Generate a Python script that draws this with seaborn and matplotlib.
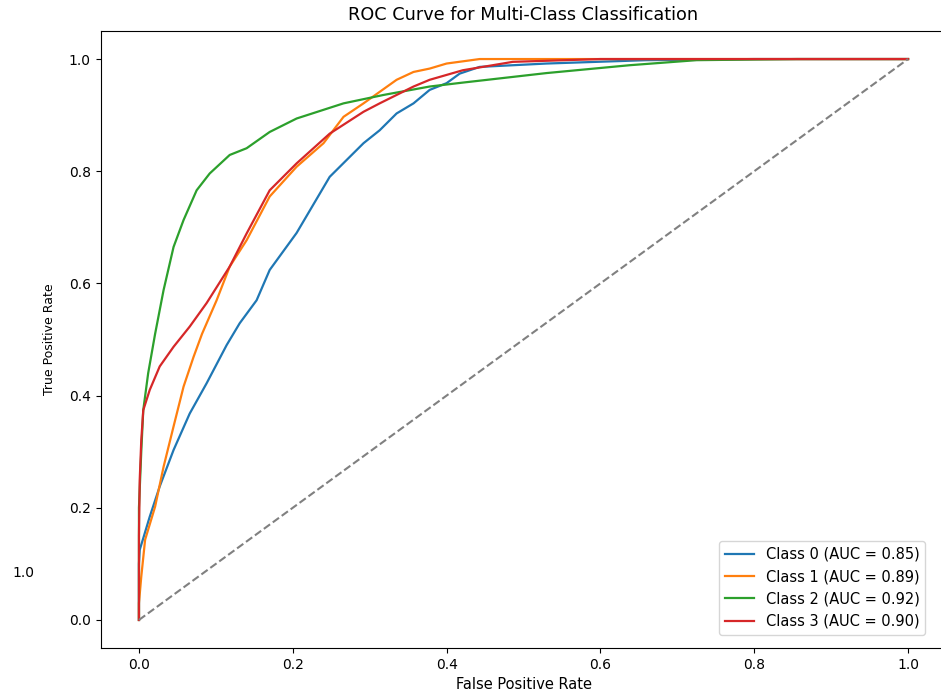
import matplotlib
matplotlib.use("Agg")
import matplotlib.pyplot as plt
import seaborn as sns
import pandas as pd

# ROC curve points (false positive rate, true positive rate) for each class
class_names = ["Class 0", "Class 1", "Class 2", "Class 3"]
auc_values = [0.85, 0.89, 0.92, 0.90]
line_colors = ["#1f77b4", "#ff7f0e", "#2ca02c", "#d62728"]

fpr_class0 = [0, 0, 0.001, 0.005, 0.014, 0.027, 0.045, 0.066, 0.088, 0.114, 0.131,
              0.153, 0.170, 0.205, 0.248, 0.292, 0.313, 0.335, 0.357, 0.378, 0.400,
              0.417, 0.443, 0.53, 0.66, 0.80, 1.0]
tpr_class0 = [0, 0.10, 0.125, 0.143, 0.184, 0.238, 0.303, 0.368, 0.422, 0.49, 0.529,
              0.57, 0.624, 0.690, 0.790, 0.850, 0.873, 0.903, 0.921, 0.945, 0.957,
              0.974, 0.986, 0.992, 0.998, 1.0, 1.0]

fpr_class1 = [0, 0.0, 0.003, 0.008, 0.021, 0.032, 0.045, 0.058, 0.071, 0.082, 0.101,
              0.118, 0.140, 0.170, 0.205, 0.240, 0.266, 0.292, 0.335, 0.357, 0.378,
              0.400, 0.443, 1.0]
tpr_class1 = [0, 0.03, 0.077, 0.143, 0.202, 0.273, 0.345, 0.416, 0.469, 0.51, 0.570,
              0.630, 0.677, 0.755, 0.808, 0.850, 0.897, 0.921, 0.963, 0.977, 0.983,
              0.992, 1.0, 1.0]

fpr_class2 = [0, 0.0, 0.003, 0.0056, 0.012, 0.021, 0.032, 0.045, 0.058, 0.075, 0.092,
              0.118, 0.140, 0.170, 0.205, 0.266, 0.318, 0.378, 0.421, 0.530, 0.638,
              0.725, 0.856, 1.0]
tpr_class2 = [0, 0.2, 0.30, 0.374, 0.44, 0.51, 0.588, 0.665, 0.713, 0.766, 0.796,
              0.829, 0.841, 0.870, 0.894, 0.921, 0.936, 0.951, 0.958, 0.975, 0.989,
              0.998, 1.0, 1.0]

fpr_class3 = [0, 0.0, 0.001, 0.003, 0.0056, 0.014, 0.027, 0.045, 0.066, 0.088, 0.118,
              0.140, 0.170, 0.205, 0.248, 0.292, 0.313, 0.335, 0.357, 0.378, 0.421,
              0.486, 0.60, 1.0]
tpr_class3 = [0, 0.15, 0.25, 0.32, 0.374, 0.41, 0.452, 0.487, 0.523, 0.565, 0.630,
              0.689, 0.766, 0.814, 0.867, 0.906, 0.921, 0.936, 0.951, 0.963, 0.980,
              0.995, 1.0, 1.0]

chance_line = [0.0, 1.0]
x_ticks = [0.0, 0.2, 0.4, 0.6, 0.8, 1.0]
y_ticks = [0.0, 0.2, 0.4, 0.6, 0.8, 1.0]

all_fpr = [fpr_class0, fpr_class1, fpr_class2, fpr_class3]
all_tpr = [tpr_class0, tpr_class1, tpr_class2, tpr_class3]

fig = plt.figure(figsize=(9.41, 6.96), dpi=100)
ax = fig.add_axes([100.5 / 941, 1 - 648 / 696, 846 / 941, 617 / 696])

# one connected path per class, drawn in threshold order
for name, auc, fpr, tpr, col in zip(class_names, auc_values, all_fpr, all_tpr, line_colors):
    curve = pd.DataFrame({"fpr": fpr, "tpr": tpr})
    sns.lineplot(data=curve, x="fpr", y="tpr", sort=False, estimator=None,
                 color=col, linewidth=1.6, label=f"{name} (AUC = {auc:.2f})", ax=ax)

ax.plot(chance_line, chance_line, linestyle="--", color="gray", linewidth=1.5)

ax.set_xlim(-0.05, 1.05)
ax.set_ylim(-0.05, 1.05)
ax.set_xticks(x_ticks)
ax.set_yticks(y_ticks)
ax.tick_params(labelsize=10)
ax.set_xlabel("False Positive Rate", fontsize=10.5)
ax.set_ylabel("True Positive Rate", fontsize=9, labelpad=9)
ax.set_title("ROC Curve for Multi-Class Classification", fontsize=12.7, pad=8)

ax.legend(loc="lower right", fontsize=10.5, bbox_to_anchor=(832 / 846, 0.01))

fig.text(12 / 941, 1 - 573 / 696, "1.0", fontsize=10, va="center", ha="left")

fig.savefig("out.png", dpi=100)
